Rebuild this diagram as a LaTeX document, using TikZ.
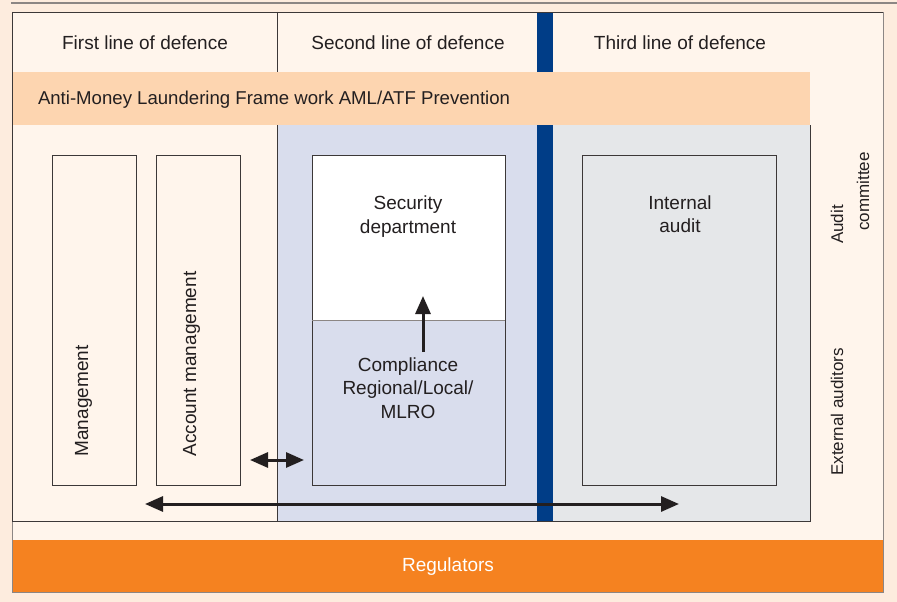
\documentclass[tikz,border=0pt]{standalone}
\usepackage{fontspec}
\setmainfont{Liberation Sans}
\usetikzlibrary{arrows.meta}
\definecolor{pagebg}{RGB}{253,236,222}
\definecolor{cream}{RGB}{255,245,236}
\definecolor{peach}{RGB}{253,213,176}
\definecolor{bluish}{RGB}{217,221,237}
\definecolor{grayish}{RGB}{229,231,233}
\definecolor{navy}{RGB}{0,61,135}
\definecolor{orangeband}{RGB}{245,130,32}
\definecolor{ink}{RGB}{35,31,32}
\definecolor{framec}{RGB}{60,56,56}
\definecolor{softline}{RGB}{140,134,132}
\begin{document}
\begin{tikzpicture}[x=1pt,y=-1pt,
  lbl/.style={font=\fontsize{19}{23.5}\selectfont, text=ink, inner sep=0pt, outer sep=0pt},
  sidelbl/.style={lbl, font=\fontsize{17}{21}\selectfont, rotate=90},
  box/.style={draw=framec, line width=0.9pt, anchor=north west, inner sep=0pt, outer sep=0pt,
              minimum height=330pt},
  arr/.style={line width=3pt, draw=ink, -{Triangle[length=18pt,width=15pt]}},
  darr/.style={line width=3pt, draw=ink, {Triangle[length=18pt,width=15pt]}-{Triangle[length=18pt,width=15pt]}}]
\useasboundingbox (0,0) rectangle (897,602);
% backgrounds
\fill[pagebg] (0,0) rectangle (897,602);
\draw[softline, line width=1.5pt] (11,3) -- (897,3);
\fill[cream] (12,12) rectangle (883,592);
\fill[bluish] (277,125) rectangle (537,521);
\fill[grayish] (553,125) rectangle (810,521);
\draw[framec, line width=0.9pt] (277,12) -- (277,521);
\fill[navy] (537,12) rectangle (553,521);
\fill[peach] (12,72) rectangle (810,125);
\fill[orangeband] (12,540) rectangle (883,592);
% frames
\draw[softline, line width=0.8pt] (12,12) rectangle (883,592);
\draw[framec, line width=0.9pt] (12,12) -- (883,12);
\draw[framec, line width=0.9pt] (12,12) -- (12,521) -- (810,521) -- (810,125);
% headers
\node[lbl, anchor=base] (h1) at (145,50) {First line of defence};
\node[lbl, anchor=base] (h2) at (408,50) {Second line of defence};
\node[lbl, anchor=base] (h3) at (680,50) {Third line of defence};
\node[lbl, font=\fontsize{18.6}{22}\selectfont, anchor=base west] (aml) at (38,104)
  {Anti-Money Laundering Frame work AML/ATF Prevention};
% boxes
\node[box, fill=cream, minimum width=84pt] (mgmt) at (52,155) {};
\node[box, fill=cream, minimum width=84pt] (acct) at (156,155) {};
\fill[bluish] (312,155) rectangle (505,485);
\fill[white] (312,155) rectangle (505,320);
\node[box, minimum width=193pt] (sec) at (312,155) {};
\draw[softline, line width=0.9pt] (sec.west |- 0,320) -- (sec.east |- 0,320);
\node[box, fill=grayish, minimum width=194pt] (ia) at (582,155) {};
% box texts
\node[lbl, rotate=90, anchor=base] (tm) at (88,401) {Management};
\node[lbl, rotate=90, anchor=base] (ta) at (196,364) {Account management};
\node[lbl, align=center] (ts) at (408,216.5) {Security\\department};
\node[lbl, align=center] (tc) at (408,388) {Compliance\\Regional/Local/\\MLRO};
\node[lbl, align=center] (ti) at (680,214) {Internal\\audit};
% side labels
\node[sidelbl, anchor=base] (tau) at (843,224.5) {Audit};
\node[sidelbl, anchor=base] (tco) at (869,191.5) {committee};
\node[sidelbl, anchor=base] (tex) at (843,412) {External auditors};
% regulators
\node[lbl, text=white, anchor=base] (reg) at (448,571) {Regulators};
% arrows
\coordinate (up1) at (423,352);
\coordinate (up2) at (423,296);
\draw[arr] (up1) -- (up2);
\draw[darr, shorten <=10pt, shorten >=8pt] (acct.east |- 0,460) -- (sec.west |- 0,460);
\coordinate (l1) at (145,504);
\coordinate (l2) at (679,504);
\draw[darr] (l1) -- (l2);
\end{tikzpicture}
\end{document}
